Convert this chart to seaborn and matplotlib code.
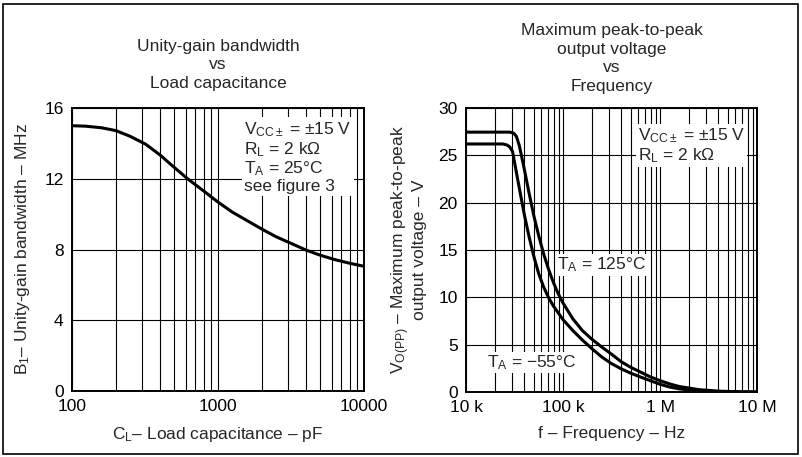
import numpy as np
import pandas as pd
import matplotlib.pyplot as plt
import seaborn as sns
from matplotlib.patches import Rectangle
from matplotlib.ticker import FixedLocator, NullFormatter

# Daten: Unity-gain bandwidth vs load capacitance
cap_pf = [100, 125, 160, 200, 250, 320, 400, 500, 630, 800, 1000, 1250, 1600,
          2000, 2500, 3200, 4000, 5000, 6300, 8000, 10000]
bw_mhz = [15.0, 14.97, 14.88, 14.72, 14.4, 13.95, 13.35, 12.65, 11.95, 11.3, 10.68,
          10.12, 9.61, 9.15, 8.72, 8.33, 7.97, 7.68, 7.43, 7.22, 7.05]

# Daten: max peak-to-peak output voltage vs frequency
freq_hot = [10e3, 20e3, 28.2e3, 30.9e3, 33.1e3, 35.5e3, 39.8e3, 44.7e3, 50.1e3, 56.2e3,
            63.1e3, 70.8e3, 79.4e3, 89.1e3, 100e3, 126e3, 158e3, 200e3, 251e3, 316e3,
            398e3, 501e3, 631e3, 794e3, 1e6, 1.26e6, 1.58e6, 2.51e6, 3.98e6, 6.31e6, 10e6]
vpp_hot = [27.45, 27.45, 27.45, 27.35, 27.0, 26.0, 23.6, 21.0, 18.6, 16.5,
           14.6, 13.0, 11.6, 10.4, 9.4, 7.75, 6.5, 5.55, 4.75, 4.0,
           3.2, 2.6, 2.1, 1.6, 1.2, 0.85, 0.58, 0.25, 0.09, 0.03, 0.0]
freq_cold = [10e3, 20e3, 24e3, 26.3e3, 28.2e3, 30.2e3, 31.6e3, 35.5e3, 39.8e3, 44.7e3,
             50.1e3, 56.2e3, 63.1e3, 70.8e3, 79.4e3, 100e3, 126e3, 158e3, 200e3, 251e3,
             316e3, 398e3, 501e3, 631e3, 794e3, 1e6, 1.26e6, 1.58e6, 2.51e6, 3.98e6,
             6.31e6, 10e6]
vpp_cold = [26.2, 26.2, 26.2, 26.1, 25.9, 25.4, 24.3, 21.5, 18.8, 16.4,
            14.3, 12.5, 11.1, 10.0, 9.1, 7.65, 6.5, 5.5, 4.55, 3.7,
            3.0, 2.45, 1.98, 1.58, 1.2, 0.82, 0.52, 0.33, 0.13, 0.05,
            0.02, 0.0]

df_bw = pd.DataFrame({'cap': cap_pf, 'bw': bw_mhz})
df_vpp = pd.concat([
    pd.DataFrame({'f': freq_hot, 'v': vpp_hot, 'T': '125'}),
    pd.DataFrame({'f': freq_cold, 'v': vpp_cold, 'T': '-55'}),
])

sns.set_style("white")
plt.rcParams['font.family'] = ['Liberation Sans', 'DejaVu Sans']
plt.rcParams['mathtext.fontset'] = 'custom'
plt.rcParams['mathtext.rm'] = 'Liberation Sans'
plt.rcParams['mathtext.it'] = 'Liberation Sans'
plt.rcParams['mathtext.default'] = 'rm'

W, H = 802, 457
fig = plt.figure(figsize=(W / 100, H / 100), dpi=100)
fig.patch.set_facecolor('white')

def px_axes(x0, y0, x1, y1):
    return fig.add_axes([x0 / W, 1 - y1 / H, (x1 - x0) / W, (y1 - y0) / H])

ax1 = px_axes(72, 108, 364, 391)
ax2 = px_axes(466, 108, 757, 392)

fs = 12.5
grid_kw = dict(color='black', lw=0.8)
box = dict(facecolor='white', edgecolor='none', pad=1.5)

# --- linkes Diagramm
sns.lineplot(data=df_bw, x='cap', y='bw', ax=ax1, color='black', lw=2.2)
ax1.set_xscale('log')
ax1.set_xlim(100, 10000)
ax1.set_ylim(0, 16)
ax1.set_yticks([0, 4, 8, 12, 16])
ax1.set_xticks([100, 1000, 10000])
ax1.set_xticklabels(['100', '1000', '10000'])
ax1.xaxis.set_minor_locator(FixedLocator([m * d for d in (100, 1000) for m in range(2, 10)]))
ax1.xaxis.set_minor_formatter(NullFormatter())
ax1.set_xlabel('C$_\\mathrm{L}$– Load capacitance – pF', fontsize=fs, labelpad=8)
ax1.set_ylabel('B$_1$– Unity-gain bandwidth – MHz', fontsize=fs, labelpad=9)
ax1.text(0.5, 1.06, 'Unity-gain bandwidth\nvs\nLoad capacitance', transform=ax1.transAxes,
         ha='center', va='bottom', fontsize=fs, linespacing=1.3)
ax1.text(0.59, 0.955,
         'V$_\\mathrm{CC\\pm}$ = ±15 V\nR$_\\mathrm{L}$ = 2 kΩ\nT$_\\mathrm{A}$ = 25°C\nsee figure 3',
         transform=ax1.transAxes, ha='left', va='top', fontsize=fs, linespacing=1.05,
         bbox=box, zorder=5)

# --- rechtes Diagramm
sns.lineplot(data=df_vpp, x='f', y='v', hue='T', palette=['black', 'black'],
             ax=ax2, lw=2.2, legend=False)
ax2.set_xscale('log')
ax2.set_xlim(1e4, 1e7)
ax2.set_ylim(0, 30)
ax2.set_yticks([0, 5, 10, 15, 20, 25, 30])
ax2.set_xticks([1e4, 1e5, 1e6, 1e7])
ax2.set_xticklabels(['10 k', '100 k', '1 M', '10 M'])
ax2.xaxis.set_minor_locator(FixedLocator([m * d for d in (1e4, 1e5, 1e6) for m in range(2, 10)]))
ax2.xaxis.set_minor_formatter(NullFormatter())
ax2.set_xlabel('f – Frequency – Hz', fontsize=fs, labelpad=8)
ax2.set_ylabel('V$_\\mathrm{O(PP)}$ – Maximum peak-to-peak\noutput voltage – V',
               fontsize=fs, labelpad=8, linespacing=1.0)
ax2.text(0.5, 1.05, 'Maximum peak-to-peak\noutput voltage\nvs\nFrequency', transform=ax2.transAxes,
         ha='center', va='bottom', fontsize=fs, linespacing=1.3)
ax2.text(0.59, 0.935, 'V$_\\mathrm{CC\\pm}$ = ±15 V\nR$_\\mathrm{L}$ = 2 kΩ',
         transform=ax2.transAxes, ha='left', va='top', fontsize=fs, linespacing=1.05,
         bbox=box, zorder=5)
ax2.text(2.52e5, 13.4, 'T$_\\mathrm{A}$ = 125°C', ha='center', va='center', fontsize=fs,
         bbox=dict(facecolor='white', edgecolor='none', pad=1.0), zorder=5)
ax2.text(4.8e4, 3.1, 'T$_\\mathrm{A}$ = −55°C', ha='center', va='center', fontsize=fs,
         bbox=dict(facecolor='white', edgecolor='none', pad=1.0), zorder=5)

for ax in (ax1, ax2):
    ax.grid(True, which='both', axis='x', **grid_kw)
    ax.grid(True, which='major', axis='y', **grid_kw)
    ax.tick_params(which='both', length=0, labelsize=fs, pad=6, colors='black')
    for s in ax.spines.values():
        s.set_color('black')
        s.set_linewidth(1.4)
    ax.set_axisbelow(True)

# Rahmen
fig.patches.append(Rectangle((3 / W, 3 / H), 795 / W, 450 / H, transform=fig.transFigure,
                             fill=False, edgecolor='black', lw=1.2))

plt.savefig('out.png', dpi=100)
